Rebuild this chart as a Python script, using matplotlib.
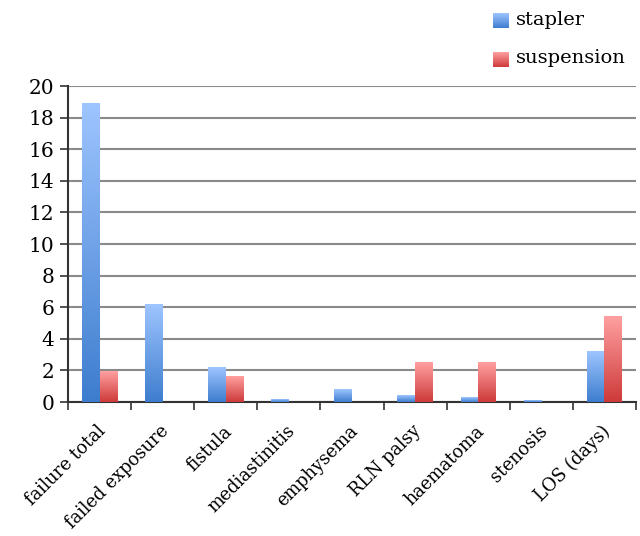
import numpy as np
import matplotlib
matplotlib.use("Agg")
import matplotlib.pyplot as plt
import matplotlib.transforms as mtransforms
from matplotlib.colors import LinearSegmentedColormap

categories = ["failure total", "failed exposure", "fistula", "mediastinitis",
              "emphysema", "RLN palsy", "haematoma", "stenosis", "LOS (days)"]
stapler = [18.9, 6.2, 2.2, 0.18, 0.8, 0.4, 0.3, 0.1, 3.2]
suspension = [1.9, 0.0, 1.6, 0.0, 0.0, 2.5, 2.5, 0.0, 5.4]
yticks = list(range(0, 21, 2))

plt.rcParams['font.family'] = ['DejaVu Serif']

W, H = 640, 536
fig = plt.figure(figsize=(W / 100, H / 100), dpi=100)
ax = fig.add_axes([68 / W, 1 - 402 / H, (636 - 68) / W, (402 - 86) / H])

blue_cmap = LinearSegmentedColormap.from_list("b", ["#3D7DCE", "#9EC5FF"])
red_cmap = LinearSegmentedColormap.from_list("r", ["#CE3A3A", "#FFA0A0"])
grad = np.linspace(0, 1, 256).reshape(-1, 1)

n = len(categories)
x = np.arange(n)
bw = 0.28

def gbar(xc, h, cmap):
    if h <= 0:
        return
    ax.imshow(grad, extent=(xc - bw / 2, xc + bw / 2, 0, h), origin="lower",
              cmap=cmap, aspect="auto", zorder=3, interpolation="bilinear")

for i in range(n):
    gbar(x[i] - bw / 2, stapler[i], blue_cmap)
    gbar(x[i] + bw / 2, suspension[i], red_cmap)

ax.set_xlim(-0.5, n - 0.5)
ax.set_ylim(0, 20)
ax.set_yticks(yticks)
ax.set_yticklabels([str(v) for v in yticks], fontsize=14.5)
ax.yaxis.grid(True, color="#8a8a8a", linewidth=1.5, zorder=0)
ax.set_axisbelow(True)

ax.set_xticks(np.arange(n + 1) - 0.5)
ax.set_xticklabels([])
ax.set_xticks(x, minor=True)
ax.set_xticklabels(categories, minor=True, rotation=45, ha="right",
                   va="top", rotation_mode="anchor", fontsize=12.8)
ax.tick_params(axis="x", which="minor", length=0, pad=8)
ax.tick_params(axis="x", which="major", length=6, width=1.2, color="#333333", direction="out")
ax.tick_params(axis="y", length=6, width=1.2, color="#333333", direction="out", pad=4)
offset = mtransforms.ScaledTranslation(-3 / 100, -9 / 100, fig.dpi_scale_trans)
for lab in ax.get_xticklabels(minor=True):
    lab.set_transform(lab.get_transform() + offset)

for s in ["top", "right"]:
    ax.spines[s].set_visible(False)
for s in ["left", "bottom"]:
    ax.spines[s].set_color("#333333")
    ax.spines[s].set_linewidth(1.5)

# legend
def legend_square(y0, cmap):
    lax = fig.add_axes([493 / W, 1 - (y0 + 15) / H, 16 / W, 15 / H])
    lax.imshow(grad, origin="lower", cmap=cmap, aspect="auto", extent=(0, 1, 0, 1))
    lax.axis("off")

legend_square(13, blue_cmap)
legend_square(52, red_cmap)
fig.text(516 / W, 1 - 20 / H, "stapler", fontsize=14, va="center", ha="left")
fig.text(516 / W, 1 - 58 / H, "suspension", fontsize=14, va="center", ha="left")

fig.savefig("out.png", dpi=100)
